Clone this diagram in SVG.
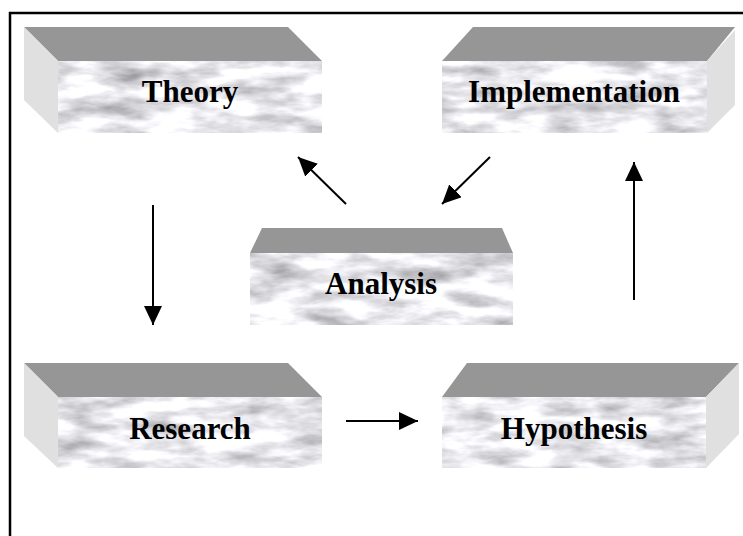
<svg xmlns="http://www.w3.org/2000/svg" width="743" height="536" viewBox="0 0 743 536">
<style>
.top{fill:#969696}
.side{fill:#e0e0e0}
.front{fill:#e6e6e6;filter:url(#marble)}
.lbl{font-family:"Liberation Serif","Times New Roman",serif;font-weight:bold;font-size:31px;fill:#000;text-anchor:middle}
.con{stroke:#000;stroke-width:2;fill:none;marker-end:url(#ah)}
</style>
<defs>
<filter id="marble" x="0" y="0" width="1" height="1" color-interpolation-filters="sRGB">
<feTurbulence type="fractalNoise" baseFrequency="0.02 0.06" numOctaves="4" seed="11" result="n"/>
<feColorMatrix in="n" type="matrix" values="0.7 0 0 0 0.56  0.7 0 0 0 0.56  0.7 0 0 0 0.58  0 0 0 0 1" result="g"/>
<feComposite in="g" in2="SourceGraphic" operator="in"/>
</filter>
<marker id="ah" markerUnits="userSpaceOnUse" markerWidth="22" markerHeight="20" refX="19" refY="9" orient="auto">
<path d="M0,0 L19,9 L0,18 Z" fill="#000"/>
</marker>
</defs>
<rect width="743" height="536" fill="#fff"/>
<path d="M10,536 V13 H743" stroke="#000" stroke-width="2.5" fill="none"/>

<g id="theory">
<polygon class="top" points="24,27 288,27 322,61 58,61"/>
<polygon class="side" points="24,27 58,61 58,133 24,100"/>
<rect class="front" x="58" y="61" width="264" height="72"/>
<text class="lbl" x="190" y="102">Theory</text>
</g>

<g id="implementation">
<polygon class="top" points="473,27 735,27 707,61 442,61"/>
<polygon class="side" points="707,61 735,30 735,105 707,133"/>
<rect class="front" x="442" y="61" width="265" height="72"/>
<text class="lbl" x="574" y="102">Implementation</text>
</g>

<g id="analysis">
<polygon class="top" points="262,228 502,228 513,253 250,253"/>
<rect class="front" x="250" y="253" width="263" height="72"/>
<text class="lbl" x="381" y="294">Analysis</text>
</g>

<g id="research">
<polygon class="top" points="24,363 288,363 322,397 58,397"/>
<polygon class="side" points="24,363 58,397 58,468 24,436"/>
<rect class="front" x="58" y="397" width="264" height="71"/>
<text class="lbl" x="190" y="439">Research</text>
</g>

<g id="hypothesis">
<polygon class="top" points="467,363 739,363 706,397 442,397"/>
<polygon class="side" points="706,397 739,363 739,434 706,468"/>
<rect class="front" x="442" y="397" width="264" height="71"/>
<text class="lbl" x="574" y="439">Hypothesis</text>
</g>

<g id="connectors">
<line class="con" x1="153" y1="205" x2="153" y2="325"/>
<line class="con" x1="346" y1="421" x2="418" y2="421"/>
<line class="con" x1="634" y1="300" x2="634" y2="162"/>
<line class="con" x1="490" y1="157" x2="442" y2="204"/>
<line class="con" x1="346" y1="204" x2="298" y2="157"/>
</g>
</svg>
